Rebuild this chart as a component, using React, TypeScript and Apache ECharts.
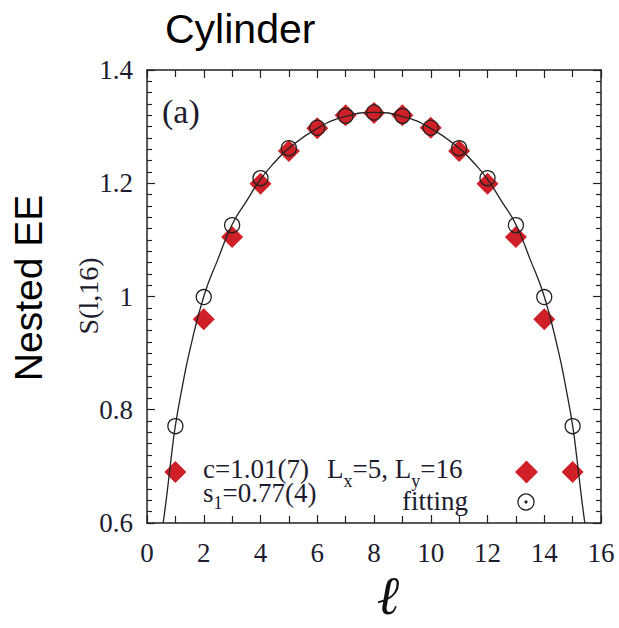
import React, { useEffect, useRef } from "react";
import * as echarts from "echarts";

// subsystem size l
const lValues = [1, 2, 3, 4, 5, 6, 7, 8, 9, 10, 11, 12, 13, 14, 15];
// nested entanglement entropy S(l,16) (red diamonds)
const sValues = [0.69, 0.96, 1.105, 1.199, 1.257, 1.297, 1.32, 1.324, 1.32, 1.298, 1.257, 1.199, 1.105, 0.96, 0.69];
// fitting values (open circles)
const fitValues = [0.771, 0.999, 1.126, 1.209, 1.262, 1.298, 1.319, 1.325, 1.319, 1.298, 1.262, 1.209, 1.126, 0.999, 0.771];
// fitting curve
const curveX = [0.57, 0.7, 0.85, 1, 1.25, 1.5, 2, 2.5, 3, 3.5, 4, 4.5, 5, 6, 7, 8, 9, 10, 11, 11.5, 12, 12.5, 13, 13.5, 14, 14.5, 14.75, 15, 15.15, 15.3, 15.43];
const curveY = [0.6, 0.65, 0.714, 0.772, 0.842, 0.903, 1.0, 1.066, 1.127, 1.168, 1.207, 1.237, 1.262, 1.297, 1.318, 1.325, 1.318, 1.297, 1.262, 1.237, 1.207, 1.168, 1.127, 1.066, 1.0, 0.903, 0.842, 0.772, 0.714, 0.65, 0.6];

const xTicks = { min: 0, max: 16, interval: 2 };
const yTicks = { min: 0.6, max: 1.4, interval: 0.2 };

const SERIF = "'Liberation Serif', 'Times New Roman', serif";
const SANS = "'Liberation Sans', Arial, sans-serif";
const INK = "#1c1c2e";
const RED = "#cf2027";
const MAIN_FONT = `27px ${SERIF}`;
const SUB_FONT = `18px ${SERIF}`;

function measure(text: string, font: string): number {
  const ctx = document.createElement("canvas").getContext("2d");
  if (!ctx) return text.length * 12;
  ctx.font = font;
  return ctx.measureText(text).width;
}

// pieces: [text, isSub]
function subText(pieces: [string, boolean][], x0: number, yMain: number, ySub: number) {
  const out: any[] = [];
  let x = x0;
  for (const [t, sub] of pieces) {
    const font = sub ? SUB_FONT : MAIN_FONT;
    out.push({
      type: "text",
      x,
      y: sub ? ySub : yMain,
      style: {
        text: t,
        font,
        lineHeight: sub ? 14 : 21,
        fill: INK,
        textAlign: "left",
        textVerticalAlign: "middle",
      },
    });
    x += measure(t, font);
  }
  return out;
}

export default function App() {
  const ref = useRef<HTMLDivElement>(null);
  useEffect(() => {
    if (!ref.current) return;
    const chart = echarts.init(ref.current, undefined, { renderer: "svg" });
    const axisLine = { show: true, onZero: false, lineStyle: { color: "#222", width: 1.5 } };
    const tickStyle = { color: "#222", width: 1.2 };
    const xCommon = {
      type: "value" as const,
      min: xTicks.min,
      max: xTicks.max,
      interval: xTicks.interval,
      axisLine,
      splitLine: { show: false },
      axisTick: { show: true, inside: true, length: 8, lineStyle: tickStyle },
      minorTick: { show: true, splitNumber: 2, length: 7, lineStyle: tickStyle },
    };
    const yCommon = {
      type: "value" as const,
      min: yTicks.min,
      max: yTicks.max,
      interval: yTicks.interval,
      axisLine,
      splitLine: { show: false },
      axisTick: { show: true, inside: true, length: 8, lineStyle: tickStyle },
      minorTick: { show: true, splitNumber: 10, length: 5, lineStyle: tickStyle },
    };
    chart.setOption({
      animation: false,
      backgroundColor: "#fff",
      grid: { left: 147, right: 18, top: 70, bottom: 105, outerBoundsMode: "none", containLabel: false },
      xAxis: [
        {
          ...xCommon,
          position: "bottom",
          axisLabel: { show: true, fontFamily: SERIF, fontSize: 27, color: INK, margin: 16 },
        },
        { ...xCommon, position: "top", axisLabel: { show: false } },
      ],
      yAxis: [
        {
          ...yCommon,
          position: "left",
          axisLabel: { show: true, fontFamily: SERIF, fontSize: 27, color: INK, margin: 14 },
        },
        { ...yCommon, position: "right", axisLabel: { show: false } },
      ],
      series: [
        {
          type: "scatter",
          name: "S",
          xAxisIndex: 0,
          yAxisIndex: 0,
          symbol: "diamond",
          symbolSize: 22,
          itemStyle: { color: RED, opacity: 1 },
          data: lValues.map((l, i) => [l, sValues[i]]),
        },
        {
          type: "line",
          name: "curve",
          xAxisIndex: 0,
          yAxisIndex: 0,
          smooth: true,
          showSymbol: false,
          symbol: "none",
          lineStyle: { color: "#222", width: 1.3 },
          data: curveX.map((x, i) => [x, curveY[i]]),
        },
        {
          type: "scatter",
          name: "fitting",
          xAxisIndex: 0,
          yAxisIndex: 0,
          symbol: "circle",
          symbolSize: 15,
          itemStyle: { color: "rgba(0,0,0,0)", borderColor: "#222", borderWidth: 1.3, opacity: 1 },
          data: lValues.map((l, i) => [l, fitValues[i]]),
        },
      ],
      graphic: [
        {
          type: "text",
          x: 165,
          y: 29,
          style: { text: "Cylinder", font: `41px ${SANS}`, fill: "#000", textAlign: "left", textVerticalAlign: "middle" },
        },
        {
          type: "text",
          x: 28,
          y: 288,
          rotation: Math.PI / 2,
          style: { text: "Nested EE", font: `39px ${SANS}`, fill: "#000", textAlign: "center", textVerticalAlign: "middle" },
        },
        {
          type: "text",
          x: 88,
          y: 296,
          rotation: Math.PI / 2,
          style: { text: "S(l,16)", font: `28px ${SERIF}`, fill: INK, textAlign: "center", textVerticalAlign: "middle" },
        },
        {
          type: "text",
          x: 388,
          y: 595,
          style: { text: "ℓ", font: `italic 54px 'DejaVu Serif', serif`, fill: "#111", textAlign: "center", textVerticalAlign: "middle" },
        },
        {
          type: "text",
          x: 162,
          y: 111,
          style: { text: "(a)", font: `34px ${SERIF}`, fill: INK, textAlign: "left", textVerticalAlign: "middle" },
        },
        {
          type: "text",
          x: 203,
          y: 469,
          style: { text: "c=1.01(7)", font: MAIN_FONT, lineHeight: 21, fill: INK, textAlign: "left", textVerticalAlign: "middle" },
        },
        ...subText([["s", false], ["1", true], ["=0.77(4)", false]], 203, 493, 503),
        ...subText([["L", false], ["x", true], ["=5, L", false], ["y", true], ["=16", false]], 327, 469, 481),
        {
          type: "text",
          x: 468,
          y: 501,
          style: { text: "fitting", font: MAIN_FONT, lineHeight: 21, fill: INK, textAlign: "right", textVerticalAlign: "middle" },
        },
        {
          type: "polygon",
          shape: { points: [[515, 472], [526.5, 460.5], [538, 472], [526.5, 483.5]] },
          style: { fill: RED },
        },
        {
          type: "circle",
          shape: { cx: 526, cy: 502, r: 8 },
          style: { fill: "none", stroke: "#222", lineWidth: 1.3 },
        },
        {
          type: "circle",
          shape: { cx: 526, cy: 502, r: 1.6 },
          style: { fill: "#222" },
        },
      ],
    });
    return () => chart.dispose();
  }, []);
  return (
    <div
      ref={ref}
      style={{ position: "fixed", left: 0, top: 0, width: 619, height: 628, background: "#fff" }}
    />
  );
}
